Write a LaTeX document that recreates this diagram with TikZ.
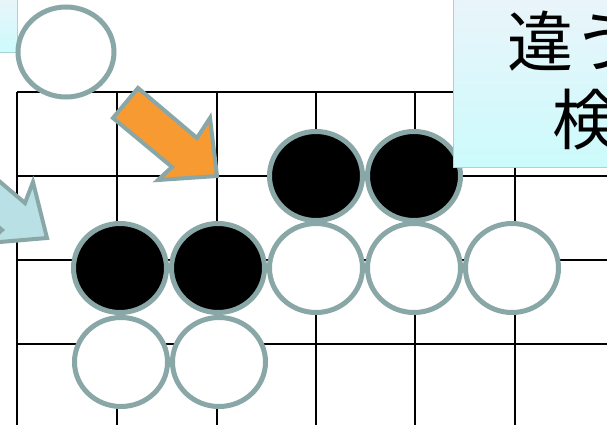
\documentclass[tikz,border=0pt]{standalone}
\usepackage{fontspec}
\newfontfamily\jpfont{Noto Sans CJK JP}
\usetikzlibrary{shapes.geometric}
\definecolor{stoneedge}{HTML}{8AA7A8}
\definecolor{arroworange}{HTML}{F79A32}
\definecolor{arrowcyan}{HTML}{B9E1E5}
\definecolor{boxtop}{HTML}{EAF4FA}
\definecolor{boxbottom}{HTML}{CCFBFC}
\definecolor{boxedge}{HTML}{A9D3D6}
\tikzset{
  gridline/.style={line width=2.4pt, black},
  stone/.style={ellipse, draw=stoneedge, line width=5pt, inner sep=0pt,
                minimum width=93pt, minimum height=89pt},
  blackstone/.style={stone, fill=black},
  whitestone/.style={stone, fill=white},
  blockarrow/.style={draw=stoneedge, line width=4pt, line join=miter},
  notebox/.style={draw=boxedge, line width=1pt, top color=boxtop, bottom color=boxbottom},
  notetext/.style={font=\jpfont\fontsize{66pt}{66pt}\selectfont, inner sep=0pt, anchor=base west}
}
\begin{document}
\begin{tikzpicture}[x=1pt,y=-1pt]
  \useasboundingbox (0,0) rectangle (607,425);
  \clip (0,0) rectangle (607,425);
  \fill[white] (0,0) rectangle (607,425);

  % board lines
  \foreach \gx in {17,117,217,316,415,515}
    \draw[gridline] (\gx,92) -- (\gx,430);
  \foreach \gy in {92,176,260,344}
    \draw[gridline] (17,\gy) -- (612,\gy);

  % block arrows
  \draw[blockarrow, fill=arroworange]
    (138,88) -- (197,138) -- (210,118) -- (217,176) -- (158,180) -- (172,167) -- (113,118) -- cycle;
  \draw[blockarrow, fill=arrowcyan]
    (-40,148) -- (25,203) -- (33,182) -- (47,238) -- (-12,243) -- (2,230) -- (-60,178) -- cycle;

  % stones
  \node[blackstone] (b1) at (316,176) {};
  \node[blackstone] (b2) at (414,176) {};
  \node[blackstone] (b3) at (120,268) {};
  \node[blackstone] (b4) at (218,268) {};
  \node[whitestone] (w1) at (316,268) {};
  \node[whitestone] (w2) at (414,268) {};
  \node[whitestone] (w3) at (512,268) {};
  \node[whitestone] (w4) at (121,362) {};
  \node[whitestone] (w5) at (219,362) {};

  % note boxes
  \draw[notebox] (-5,-5) rectangle (17,53);
  \node[whitestone, minimum width=96pt, minimum height=90pt] (w0) at (66,52) {};
  \draw[notebox] (453,-5) rectangle (615,167);
  \node[notetext] (line1) at (507,67) {違う};
  \node[notetext] (line2) at (552,144) {検};
\end{tikzpicture}
\end{document}
